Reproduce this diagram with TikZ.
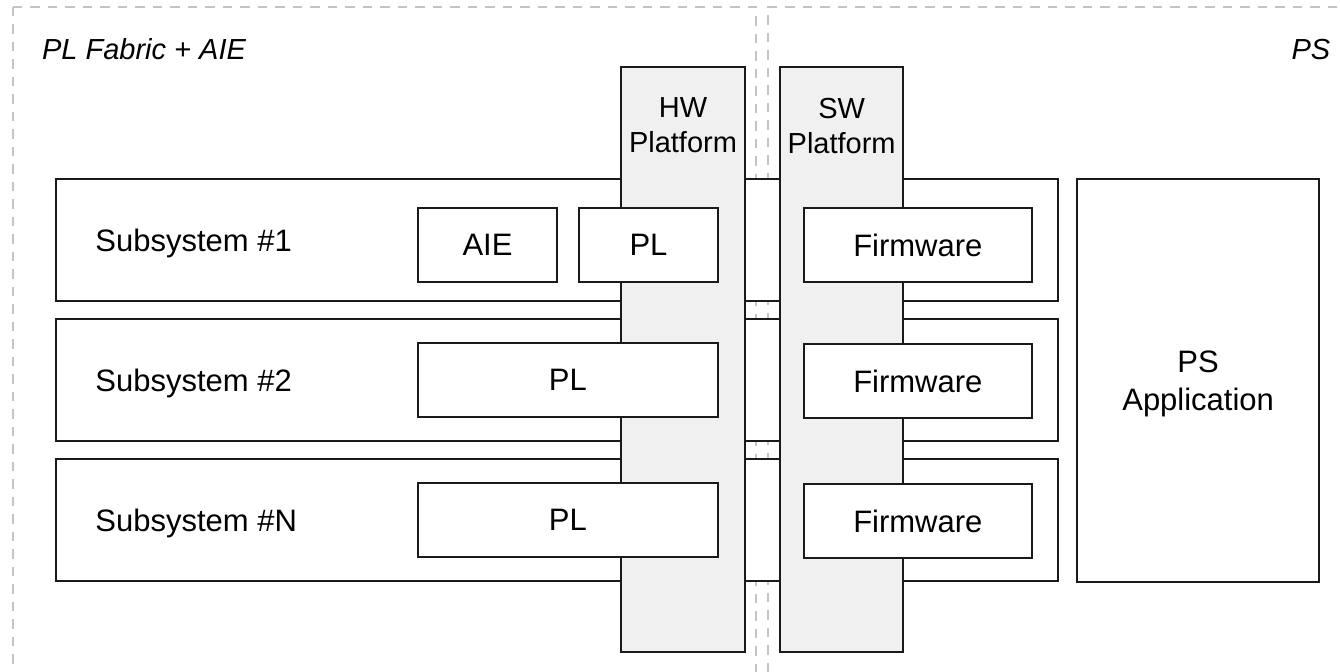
\documentclass[tikz,border=0pt]{standalone}
\usepackage{fontspec}
\setmainfont{Liberation Sans}
\usetikzlibrary{fit}
\definecolor{rgnline}{HTML}{C4C4C4}
\definecolor{platfill}{HTML}{F0F0F0}
\definecolor{ink}{HTML}{1A1A1A}
\tikzset{
  region/.style={draw=rgnline, line width=1pt, dash pattern=on 4.75pt off 4pt},
  blk/.style={draw=ink, line width=1pt, fill=white, inner sep=0pt,
              font=\fontsize{15.5}{19}\selectfont, text=black},
  inblk/.style={blk, minimum height=37pt},
  plat/.style={blk, fill=platfill},
  lbl/.style={inner sep=0pt, font=\fontsize{15.5}{19}\selectfont, text=black},
  platlbl/.style={inner sep=0pt, align=center, font=\fontsize{14.5}{17.5}\selectfont, text=black},
  tag/.style={inner sep=0pt, font=\fontsize{14.5}{17.5}\selectfont\itshape, text=black},
}
\begin{document}
\begin{tikzpicture}[x=0.5pt, y=-0.5pt]
\useasboundingbox (0,0) rectangle (1340,672);
\clip (0,0) rectangle (1340,672);

% region outlines
\coordinate (lt) at (12.7,7);
\draw[region] (lt) -- (12.7,690);
\draw[region] (lt) -- (755.7,7) -- (755.7,690);
\draw[region] (768.3,690) -- (768.3,7) -- (1360,7);
\node[tag, anchor=base west] (plfab) at (41.7,60) {PL Fabric + AIE};
\node[tag, anchor=base east] (pstag) at (1330.7,60) {PS};

% subsystem rows
\node[blk, fit={(55.7,179) (1057.5,301.5)}] (row1) {};
\node[blk, fit={(55.7,319) (1057.5,441)}] (row2) {};
\node[blk, fit={(55.7,459) (1057.5,581.5)}] (row3) {};
\node[lbl, anchor=base west] (row1t) at (95,252) {Subsystem \#1};
\node[lbl, anchor=base west] (row2t) at (95,392) {Subsystem \#2};
\node[lbl, anchor=base west] (row3t) at (95,532) {Subsystem \#N};

% platform columns
\node[plat, fit={(621,67) (745,652)}] (hw) {};
\node[plat, fit={(780,67) (903.3,652)}] (sw) {};
\node[platlbl, anchor=north] (hwt) at (hw.north |- 0,97.5) {HW\\Platform};
\node[platlbl, anchor=north] (swt) at (sw.north |- 0,97.5) {SW\\Platform};

% blocks inside the rows
\node[inblk, minimum width=69.8pt]   (aie1) at (487.5,245.3)  {AIE};
\node[inblk, minimum width=69.5pt]   (pl1)  at (648.5,245.3)  {PL};
\node[inblk, minimum width=113.85pt] (fw1)  at (917.85,245.3) {Firmware};
\node[inblk, minimum width=150.15pt] (pl2)  at (567.85,380.3) {PL};
\node[inblk, minimum width=113.85pt] (fw2)  at (917.85,381.5) {Firmware};
\node[inblk, minimum width=150.15pt] (pl3)  at (567.85,520.3) {PL};
\node[inblk, minimum width=113.85pt] (fw3)  at (917.85,521)   {Firmware};

% processing system application
\node[blk, fit={(1077.3,179) (1319,582)}] (psapp) {};
\node[lbl, align=center, anchor=north] (psappt) at (psapp.north |- 0,350.5) {PS\\Application};
\end{tikzpicture}
\end{document}
